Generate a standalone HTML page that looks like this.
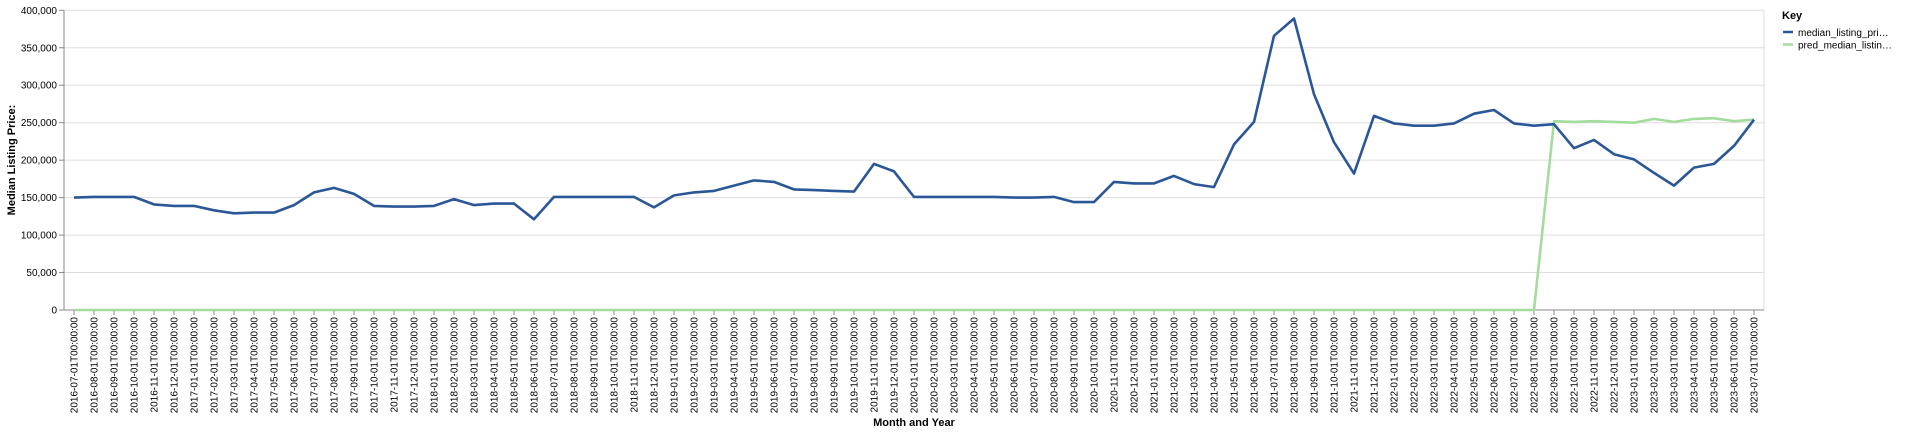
<!DOCTYPE html>
<html><head><meta charset="utf-8"><style>
html,body{margin:0;padding:0;background:#fff;}
svg{display:block;font-family:"Liberation Sans",Arial,sans-serif;}
</style></head><body>
<svg id="chart" width="1920" height="434" viewBox="0 0 1920 434" xmlns="http://www.w3.org/2000/svg">
<g id="grid"></g>
<g id="xaxis"></g>
<g id="yaxis"></g>
<g id="series"></g>
<text transform="translate(15,160) rotate(-90)" text-anchor="middle" font-size="11" font-weight="bold" fill="#000">Median Listing Price:</text>
<text x="914" y="426" text-anchor="middle" font-size="11" font-weight="bold" fill="#000">Month and Year</text>
<g>
<text x="1782" y="19" font-size="11" font-weight="bold" fill="#000">Key</text>
<g>
<line x1="1783" y1="32" x2="1793" y2="32" stroke="#2b5797" stroke-width="2.5"/>
<text x="1798" y="36" font-size="10" fill="#000">median_listing_pri…</text></g>
<g>
<line x1="1783" y1="44.5" x2="1793" y2="44.5" stroke="#a3dc9c" stroke-width="2.5"/>
<text x="1798" y="48.5" font-size="10" fill="#000">pred_median_listin…</text></g>
</g>
</svg>
<script>
const startYear = 2016, startMonth = 7, monthCount = 85;
const medianValues = [150,151,151,151,141,139,139,133,129,130,130,140,157,163,155,139,138,138,139,148,140,142,142,121,151,151,151,151,151,137,153,157,159,166,173,171,161,160,159,158,195,185,151,151,151,151,151,150,150,151,144,144,171,169,169,179,168,164,221,251,366,389,288,224,182,259,249,246,246,249,262,267,249,246,248,216,227,208,201,183,166,190,195,219,254];
const predValues = [0,0,0,0,0,0,0,0,0,0,0,0,0,0,0,0,0,0,0,0,0,0,0,0,0,0,0,0,0,0,0,0,0,0,0,0,0,0,0,0,0,0,0,0,0,0,0,0,0,0,0,0,0,0,0,0,0,0,0,0,0,0,0,0,0,0,0,0,0,0,0,0,0,0,252,251,252,251,250,255,251,255,256,252,254];
const yTicks = [0,50000,100000,150000,200000,250000,300000,350000,400000];
const yTickLabels = ["0","50,000","100,000","150,000","200,000","250,000","300,000","350,000","400,000"];

const NS="http://www.w3.org/2000/svg";
const L=64,R=1764,T=10.3,B=310;
const step=(R-L)/monthCount;
const xS=i=>L+step*(i+0.5);
const yS=v=>B-(v/400000)*(B-T);
function mk(t,a,p){const e=document.createElementNS(NS,t);for(const k in a)e.setAttribute(k,a[k]);p.appendChild(e);return e;}
const categories=[];
for(let i=0;i<monthCount;i++){const m=startMonth-1+i;const y=startYear+Math.floor(m/12);const mm=(m%12)+1;categories.push(y+"-"+String(mm).padStart(2,"0")+"-01T00:00:00");}

const grid=document.getElementById('grid'),ya=document.getElementById('yaxis'),xa=document.getElementById('xaxis'),ser=document.getElementById('series');
yTicks.forEach((v,k)=>{
  const y=yS(v);
  const g=mk('line',{x1:L,x2:R,y1:y,y2:y,stroke:'#ddd','stroke-width':1},grid);
  
  
  const t=mk('line',{x1:L-5,x2:L,y1:y,y2:y,stroke:'#888'},ya);
  
  
  const tx=mk('text',{x:L-7,y:y+3.5,'text-anchor':'end','font-size':10,fill:'#000'},ya);
  tx.textContent=yTickLabels[k];
  
  
});
mk('line',{x1:R,x2:R,y1:T,y2:B,stroke:'#ddd'},grid);
const yl=mk('line',{x1:L,x2:L,y1:T,y2:B,stroke:'#888'},ya);


const xl=mk('line',{x1:L,x2:R,y1:B,y2:B,stroke:'#888'},xa);


categories.forEach((c,i)=>{
  const x=xS(i);
  const t=mk('line',{x1:x,x2:x,y1:B,y2:B+5,stroke:'#888'},xa);
  
  
  const tx=mk('text',{transform:`translate(${x+3.5},${B+7}) rotate(-90)`,'text-anchor':'end','font-size':10,fill:'#000'},xa);
  tx.textContent=c;
  
  
});
function line(vals,color,name){
  const d=vals.map((v,i)=>(i?'L':'M')+xS(i).toFixed(1)+','+yS(v*1000).toFixed(1)).join('');
  const p=mk('path',{d:d,fill:'none',stroke:color,'stroke-width':2.6,'stroke-linejoin':'round'},ser);
  
  
}
line(predValues,'#a3dc9c','pred-median-line');
line(medianValues,'#2b5797','median-listing-line');
</script>
</body></html>
